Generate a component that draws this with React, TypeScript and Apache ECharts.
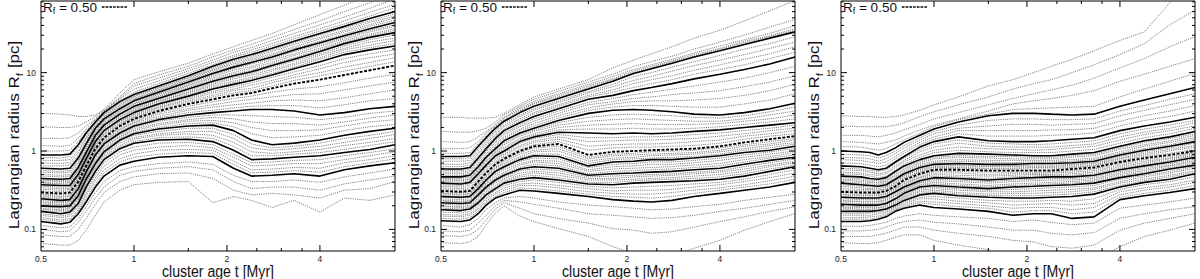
import React, { useEffect, useRef } from "react";
import * as echarts from "echarts";

const FONT = "Liberation Sans, Arial, Helvetica, sans-serif";

// cluster age t [Myr] at which every Lagrangian radius below was read
const AGES = [0.5, 0.58, 0.62, 0.66, 0.7, 0.75, 0.8, 0.9, 1.0, 1.2, 1.5, 1.8, 2.1, 2.4, 2.8, 3.3, 4.0, 4.8, 5.8, 7.0];

const THICK_FRACTIONS = [0.1, 0.2, 0.3, 0.4, 0.5, 0.6, 0.7, 0.8, 0.9];
const THIN_FRACTIONS = [0.02, 0.04, 0.06, 0.08, 0.12, 0.14, 0.16, 0.18, 0.22, 0.24, 0.26, 0.28, 0.32, 0.34, 0.36, 0.38, 0.42, 0.44, 0.46, 0.48, 0.52, 0.54, 0.56, 0.58, 0.62, 0.64, 0.66, 0.68, 0.72, 0.74, 0.76, 0.78, 0.82, 0.84, 0.86, 0.88, 0.92, 0.94, 0.96, 0.98, 0.99];

const X_TICK_MAJOR = [1, 2, 4];
const X_TICK_MINOR = [1.5, 2.5, 3, 3.5];
const Y_TICK_MAJOR = [0.1, 1, 10];
const Y_TICK_MINOR = [0.06, 0.07, 0.08, 0.09, 0.2, 0.3, 0.4, 0.5, 0.6, 0.7, 0.8, 0.9, 2, 3, 4, 5, 6, 7, 8, 9, 20, 30, 40, 50, 60, 70, 80];

// All radii below are stored as log10(R_f / pc), one row per mass fraction.
// ---------- panel 1 ----------
const P1_THICK = [
  [-0.90,-0.93,-0.91,-0.80,-0.65,-0.46,-0.32,-0.18,-0.13,-0.08,-0.06,-0.07,-0.22,-0.32,-0.31,-0.29,-0.32,-0.24,-0.19,-0.15],
  [-0.77,-0.80,-0.78,-0.67,-0.46,-0.26,-0.11,0.03,0.10,0.14,0.15,0.12,0.01,-0.11,-0.10,-0.08,-0.06,-0.02,0.02,0.08],
  [-0.70,-0.71,-0.70,-0.57,-0.36,-0.16,-0.01,0.14,0.22,0.28,0.32,0.33,0.26,0.14,0.08,0.10,0.14,0.20,0.25,0.29],
  [-0.61,-0.63,-0.62,-0.48,-0.27,-0.05,0.09,0.23,0.32,0.40,0.46,0.49,0.51,0.53,0.53,0.51,0.46,0.49,0.54,0.57],
  [-0.53,-0.54,-0.53,-0.39,-0.19,0.03,0.17,0.32,0.41,0.51,0.60,0.66,0.71,0.74,0.80,0.86,0.91,0.97,1.03,1.09],
  [-0.43,-0.44,-0.44,-0.30,-0.10,0.12,0.26,0.40,0.49,0.60,0.70,0.79,0.85,0.90,0.97,1.05,1.14,1.23,1.29,1.34],
  [-0.35,-0.36,-0.35,-0.21,-0.02,0.20,0.33,0.47,0.57,0.67,0.79,0.89,0.96,1.01,1.09,1.17,1.27,1.37,1.45,1.51],
  [-0.22,-0.23,-0.22,-0.09,0.09,0.29,0.41,0.54,0.64,0.75,0.88,0.99,1.07,1.13,1.20,1.29,1.38,1.47,1.56,1.64],
  [-0.05,-0.05,-0.04,0.08,0.23,0.37,0.49,0.63,0.72,0.83,0.96,1.08,1.17,1.23,1.31,1.40,1.50,1.59,1.69,1.78],
];
const P1_THIN = [
  [-1.18,-1.20,-1.20,-1.14,-1.01,-0.82,-0.65,-0.50,-0.43,-0.40,-0.39,-0.66,-0.58,-0.63,-0.72,-0.63,-0.78,-0.60,-0.63,-0.56],
  [-1.07,-1.09,-1.09,-1.00,-0.86,-0.68,-0.53,-0.39,-0.33,-0.29,-0.28,-0.35,-0.50,-0.56,-0.54,-0.56,-0.60,-0.50,-0.48,-0.39],
  [-1.00,-1.03,-1.02,-0.91,-0.77,-0.60,-0.46,-0.31,-0.26,-0.22,-0.20,-0.24,-0.39,-0.48,-0.46,-0.46,-0.50,-0.42,-0.37,-0.32],
  [-0.95,-0.98,-0.97,-0.86,-0.71,-0.53,-0.39,-0.25,-0.20,-0.16,-0.14,-0.17,-0.31,-0.39,-0.39,-0.37,-0.40,-0.33,-0.28,-0.23],
  [-0.87,-0.90,-0.88,-0.77,-0.61,-0.42,-0.28,-0.14,-0.08,-0.04,-0.02,-0.03,-0.17,-0.28,-0.27,-0.25,-0.27,-0.20,-0.15,-0.10],
  [-0.85,-0.88,-0.86,-0.75,-0.57,-0.38,-0.24,-0.10,-0.04,0.01,0.02,0.01,-0.13,-0.24,-0.23,-0.21,-0.22,-0.15,-0.11,-0.06],
  [-0.82,-0.85,-0.83,-0.72,-0.54,-0.34,-0.19,-0.05,0.01,0.05,0.07,0.04,-0.08,-0.19,-0.18,-0.16,-0.16,-0.11,-0.06,-0.01],
  [-0.80,-0.83,-0.81,-0.70,-0.50,-0.30,-0.15,-0.01,0.05,0.10,0.11,0.08,-0.04,-0.15,-0.14,-0.12,-0.11,-0.06,-0.02,0.03],
  [-0.76,-0.78,-0.76,-0.65,-0.44,-0.24,-0.09,0.05,0.12,0.17,0.18,0.16,0.06,-0.06,-0.06,-0.04,-0.02,0.02,0.07,0.12],
  [-0.74,-0.76,-0.75,-0.63,-0.42,-0.22,-0.07,0.07,0.15,0.20,0.22,0.20,0.11,-0.01,-0.03,-0.01,0.02,0.07,0.11,0.16],
  [-0.73,-0.75,-0.73,-0.61,-0.40,-0.20,-0.05,0.10,0.17,0.22,0.25,0.25,0.16,0.04,0.01,0.03,0.06,0.11,0.16,0.21],
  [-0.71,-0.73,-0.72,-0.59,-0.38,-0.18,-0.03,0.12,0.20,0.25,0.29,0.29,0.21,0.09,0.04,0.06,0.10,0.16,0.20,0.25],
  [-0.68,-0.69,-0.68,-0.55,-0.34,-0.14,0.01,0.16,0.24,0.30,0.35,0.36,0.31,0.22,0.17,0.18,0.20,0.26,0.31,0.34],
  [-0.66,-0.68,-0.67,-0.53,-0.32,-0.12,0.03,0.18,0.26,0.33,0.38,0.39,0.36,0.30,0.26,0.26,0.27,0.32,0.37,0.40],
  [-0.65,-0.66,-0.65,-0.52,-0.31,-0.09,0.05,0.19,0.28,0.35,0.40,0.43,0.41,0.37,0.35,0.35,0.33,0.37,0.42,0.46],
  [-0.63,-0.65,-0.64,-0.50,-0.29,-0.07,0.07,0.21,0.30,0.38,0.43,0.46,0.46,0.45,0.44,0.43,0.40,0.43,0.48,0.51],
  [-0.59,-0.61,-0.60,-0.46,-0.25,-0.03,0.11,0.25,0.34,0.42,0.49,0.52,0.55,0.57,0.58,0.58,0.55,0.59,0.64,0.67],
  [-0.58,-0.59,-0.58,-0.44,-0.24,-0.02,0.12,0.27,0.36,0.44,0.52,0.56,0.59,0.61,0.64,0.65,0.64,0.68,0.73,0.78],
  [-0.56,-0.58,-0.57,-0.43,-0.22,0.00,0.14,0.28,0.37,0.47,0.54,0.59,0.63,0.66,0.69,0.72,0.73,0.78,0.83,0.88],
  [-0.55,-0.56,-0.55,-0.41,-0.21,0.01,0.15,0.30,0.39,0.49,0.57,0.63,0.67,0.70,0.75,0.79,0.82,0.87,0.93,0.98],
  [-0.51,-0.52,-0.51,-0.37,-0.17,0.05,0.19,0.34,0.43,0.53,0.62,0.69,0.74,0.77,0.83,0.90,0.96,1.02,1.08,1.14],
  [-0.49,-0.50,-0.49,-0.35,-0.15,0.07,0.21,0.35,0.44,0.55,0.64,0.71,0.77,0.80,0.87,0.94,1.00,1.07,1.13,1.19],
  [-0.47,-0.48,-0.48,-0.34,-0.14,0.08,0.22,0.37,0.46,0.56,0.66,0.74,0.79,0.84,0.90,0.97,1.05,1.13,1.19,1.24],
  [-0.45,-0.46,-0.46,-0.32,-0.12,0.10,0.24,0.38,0.47,0.58,0.68,0.76,0.82,0.87,0.94,1.01,1.09,1.18,1.24,1.29],
  [-0.41,-0.42,-0.42,-0.28,-0.08,0.14,0.27,0.41,0.51,0.61,0.72,0.81,0.87,0.92,0.99,1.07,1.17,1.26,1.32,1.37],
  [-0.40,-0.41,-0.40,-0.26,-0.07,0.15,0.29,0.43,0.52,0.63,0.74,0.83,0.89,0.94,1.02,1.10,1.19,1.29,1.35,1.41],
  [-0.38,-0.39,-0.39,-0.25,-0.05,0.17,0.30,0.44,0.54,0.64,0.75,0.85,0.92,0.97,1.04,1.12,1.22,1.31,1.39,1.44],
  [-0.37,-0.38,-0.37,-0.23,-0.04,0.18,0.32,0.46,0.55,0.66,0.77,0.87,0.94,0.99,1.07,1.15,1.24,1.34,1.42,1.48],
  [-0.32,-0.33,-0.32,-0.19,0.00,0.22,0.35,0.48,0.58,0.69,0.81,0.91,0.98,1.03,1.11,1.19,1.29,1.39,1.47,1.54],
  [-0.30,-0.31,-0.30,-0.16,0.02,0.24,0.36,0.50,0.60,0.70,0.83,0.93,1.00,1.06,1.13,1.22,1.31,1.41,1.49,1.56],
  [-0.27,-0.28,-0.27,-0.14,0.05,0.25,0.38,0.51,0.61,0.72,0.84,0.95,1.03,1.08,1.16,1.24,1.34,1.43,1.52,1.59],
  [-0.25,-0.26,-0.25,-0.11,0.07,0.27,0.39,0.53,0.63,0.73,0.86,0.97,1.05,1.11,1.18,1.27,1.36,1.45,1.54,1.61],
  [-0.19,-0.19,-0.18,-0.06,0.12,0.31,0.43,0.56,0.66,0.77,0.90,1.01,1.09,1.15,1.22,1.31,1.40,1.49,1.59,1.67],
  [-0.15,-0.16,-0.15,-0.02,0.15,0.32,0.44,0.58,0.67,0.78,0.91,1.03,1.11,1.17,1.24,1.33,1.43,1.52,1.61,1.70],
  [-0.12,-0.12,-0.11,0.01,0.17,0.34,0.46,0.59,0.69,0.80,0.93,1.04,1.13,1.19,1.27,1.36,1.45,1.54,1.64,1.72],
  [-0.08,-0.09,-0.07,0.05,0.20,0.35,0.47,0.61,0.70,0.81,0.94,1.06,1.15,1.21,1.29,1.38,1.48,1.57,1.66,1.75],
  [0.00,0.00,0.01,0.12,0.25,0.38,0.49,0.64,0.75,0.86,0.99,1.10,1.20,1.26,1.34,1.43,1.53,1.62,1.72,1.83],
  [0.07,0.06,0.07,0.16,0.28,0.40,0.50,0.66,0.79,0.89,1.02,1.13,1.22,1.29,1.37,1.46,1.56,1.66,1.77,1.87],
  [0.16,0.16,0.17,0.23,0.32,0.41,0.51,0.67,0.83,0.93,1.05,1.16,1.26,1.32,1.41,1.50,1.61,1.71,1.82,1.94],
  [0.31,0.30,0.30,0.32,0.37,0.44,0.52,0.69,0.86,0.97,1.08,1.20,1.29,1.36,1.45,1.55,1.66,1.78,1.89,2.01],
  [0.48,0.47,0.46,0.44,0.44,0.46,0.53,0.74,0.91,1.01,1.12,1.24,1.33,1.41,1.50,1.61,1.74,1.86,1.99,2.12],
];

// ---------- panel 2 ----------
const P2_THICK = [
  [-0.89,-0.90,-0.88,-0.80,-0.69,-0.60,-0.56,-0.50,-0.51,-0.54,-0.58,-0.62,-0.64,-0.65,-0.63,-0.58,-0.54,-0.50,-0.46,-0.40],
  [-0.75,-0.76,-0.74,-0.66,-0.56,-0.48,-0.41,-0.36,-0.34,-0.37,-0.42,-0.43,-0.41,-0.40,-0.39,-0.38,-0.36,-0.32,-0.26,-0.20],
  [-0.66,-0.67,-0.66,-0.56,-0.46,-0.37,-0.31,-0.23,-0.20,-0.22,-0.31,-0.29,-0.28,-0.27,-0.26,-0.24,-0.22,-0.17,-0.12,-0.08],
  [-0.58,-0.59,-0.58,-0.48,-0.37,-0.26,-0.20,-0.11,-0.06,-0.07,-0.19,-0.14,-0.13,-0.11,-0.11,-0.09,-0.06,-0.02,0.01,0.06],
  [-0.51,-0.52,-0.51,-0.39,-0.28,-0.17,-0.10,0.00,0.06,0.09,-0.05,-0.01,0.00,0.01,0.02,0.03,0.06,0.11,0.15,0.19],
  [-0.41,-0.42,-0.40,-0.29,-0.18,-0.06,0.00,0.12,0.18,0.24,0.23,0.22,0.23,0.22,0.23,0.25,0.27,0.30,0.33,0.36],
  [-0.33,-0.33,-0.31,-0.20,-0.08,0.03,0.13,0.23,0.29,0.39,0.48,0.52,0.53,0.52,0.50,0.47,0.46,0.49,0.54,0.61],
  [-0.23,-0.23,-0.21,-0.09,0.03,0.16,0.26,0.36,0.44,0.54,0.66,0.71,0.77,0.81,0.86,0.92,0.98,1.04,1.11,1.20],
  [-0.07,-0.07,-0.06,0.06,0.17,0.29,0.38,0.49,0.57,0.67,0.79,0.89,0.99,1.05,1.12,1.20,1.28,1.36,1.44,1.52],
];
const P2_THIN = [
  [-1.17,-1.18,-1.16,-1.09,-0.94,-0.79,-0.70,-0.83,-0.90,-0.99,-1.09,-1.22,-1.31,-1.35,-1.33,-1.24,-1.14,-1.01,-0.90,-0.80],
  [-1.08,-1.09,-1.07,-1.00,-0.88,-0.74,-0.66,-0.73,-0.80,-0.86,-0.92,-0.99,-1.01,-1.05,-1.03,-0.97,-0.90,-0.84,-0.77,-0.71],
  [-1.02,-1.03,-1.01,-0.92,-0.82,-0.70,-0.63,-0.65,-0.68,-0.73,-0.80,-0.82,-0.84,-0.86,-0.85,-0.82,-0.77,-0.73,-0.68,-0.63],
  [-0.95,-0.97,-0.94,-0.86,-0.75,-0.66,-0.60,-0.58,-0.60,-0.65,-0.69,-0.71,-0.73,-0.75,-0.74,-0.71,-0.68,-0.63,-0.59,-0.55],
  [-0.86,-0.87,-0.85,-0.77,-0.66,-0.58,-0.53,-0.47,-0.48,-0.51,-0.55,-0.58,-0.59,-0.60,-0.58,-0.54,-0.50,-0.46,-0.42,-0.36],
  [-0.83,-0.84,-0.82,-0.74,-0.64,-0.55,-0.50,-0.44,-0.44,-0.47,-0.52,-0.54,-0.55,-0.55,-0.53,-0.50,-0.47,-0.43,-0.38,-0.32],
  [-0.81,-0.82,-0.80,-0.72,-0.61,-0.53,-0.47,-0.42,-0.41,-0.44,-0.48,-0.51,-0.50,-0.50,-0.49,-0.46,-0.43,-0.39,-0.34,-0.28],
  [-0.78,-0.79,-0.77,-0.69,-0.59,-0.50,-0.44,-0.39,-0.37,-0.40,-0.45,-0.47,-0.46,-0.45,-0.44,-0.42,-0.40,-0.36,-0.30,-0.24],
  [-0.73,-0.74,-0.72,-0.64,-0.54,-0.46,-0.39,-0.33,-0.31,-0.34,-0.40,-0.40,-0.38,-0.37,-0.36,-0.35,-0.33,-0.29,-0.23,-0.18],
  [-0.71,-0.72,-0.71,-0.62,-0.52,-0.44,-0.37,-0.31,-0.28,-0.31,-0.37,-0.37,-0.36,-0.35,-0.34,-0.32,-0.30,-0.26,-0.20,-0.15],
  [-0.70,-0.71,-0.69,-0.60,-0.50,-0.41,-0.35,-0.28,-0.26,-0.28,-0.35,-0.35,-0.33,-0.32,-0.31,-0.29,-0.27,-0.23,-0.18,-0.13],
  [-0.68,-0.69,-0.67,-0.58,-0.48,-0.39,-0.33,-0.25,-0.23,-0.25,-0.33,-0.32,-0.31,-0.30,-0.29,-0.27,-0.25,-0.20,-0.15,-0.10],
  [-0.64,-0.65,-0.64,-0.54,-0.44,-0.35,-0.29,-0.21,-0.17,-0.19,-0.29,-0.26,-0.25,-0.24,-0.23,-0.21,-0.19,-0.14,-0.09,-0.05],
  [-0.63,-0.64,-0.63,-0.53,-0.42,-0.33,-0.27,-0.18,-0.14,-0.16,-0.26,-0.23,-0.22,-0.21,-0.20,-0.18,-0.16,-0.11,-0.07,-0.02],
  [-0.61,-0.62,-0.61,-0.51,-0.41,-0.30,-0.24,-0.16,-0.12,-0.13,-0.24,-0.20,-0.19,-0.17,-0.17,-0.15,-0.12,-0.08,-0.04,0.00],
  [-0.59,-0.60,-0.59,-0.50,-0.39,-0.28,-0.22,-0.13,-0.09,-0.10,-0.21,-0.17,-0.16,-0.14,-0.14,-0.12,-0.09,-0.05,-0.01,0.03],
  [-0.57,-0.58,-0.57,-0.46,-0.35,-0.24,-0.18,-0.09,-0.04,-0.04,-0.16,-0.11,-0.10,-0.09,-0.08,-0.07,-0.04,0.01,0.04,0.09],
  [-0.55,-0.56,-0.55,-0.44,-0.33,-0.22,-0.16,-0.07,-0.01,0.00,-0.13,-0.09,-0.08,-0.06,-0.05,-0.04,-0.01,0.03,0.07,0.11],
  [-0.54,-0.55,-0.54,-0.43,-0.32,-0.21,-0.14,-0.04,0.01,0.03,-0.10,-0.06,-0.05,-0.04,-0.03,-0.02,0.01,0.06,0.09,0.14],
  [-0.52,-0.53,-0.52,-0.41,-0.30,-0.19,-0.12,-0.02,0.04,0.06,-0.08,-0.04,-0.03,-0.01,0.00,0.01,0.04,0.08,0.12,0.16],
  [-0.49,-0.50,-0.49,-0.37,-0.26,-0.15,-0.08,0.02,0.08,0.12,0.01,0.04,0.05,0.05,0.06,0.07,0.10,0.15,0.19,0.22],
  [-0.47,-0.48,-0.47,-0.35,-0.24,-0.13,-0.06,0.05,0.11,0.15,0.06,0.08,0.09,0.09,0.10,0.12,0.14,0.19,0.22,0.26],
  [-0.45,-0.46,-0.44,-0.33,-0.22,-0.10,-0.04,0.07,0.13,0.18,0.12,0.13,0.14,0.14,0.15,0.16,0.19,0.22,0.26,0.29],
  [-0.43,-0.44,-0.42,-0.31,-0.20,-0.08,-0.02,0.10,0.16,0.21,0.17,0.17,0.18,0.18,0.19,0.21,0.23,0.26,0.29,0.33],
  [-0.39,-0.40,-0.38,-0.27,-0.16,-0.04,0.03,0.14,0.20,0.27,0.28,0.28,0.29,0.28,0.28,0.29,0.31,0.34,0.37,0.41],
  [-0.38,-0.38,-0.36,-0.25,-0.14,-0.02,0.05,0.16,0.22,0.30,0.33,0.34,0.35,0.34,0.34,0.34,0.35,0.38,0.41,0.46],
  [-0.36,-0.37,-0.35,-0.24,-0.12,-0.01,0.08,0.19,0.25,0.33,0.38,0.40,0.41,0.40,0.39,0.38,0.38,0.41,0.46,0.51],
  [-0.35,-0.35,-0.33,-0.22,-0.10,0.01,0.10,0.21,0.27,0.36,0.43,0.46,0.47,0.46,0.45,0.43,0.42,0.45,0.50,0.56],
  [-0.31,-0.31,-0.29,-0.18,-0.06,0.06,0.16,0.26,0.32,0.42,0.52,0.56,0.58,0.58,0.57,0.56,0.56,0.60,0.65,0.73],
  [-0.29,-0.29,-0.27,-0.16,-0.04,0.08,0.18,0.28,0.35,0.45,0.55,0.60,0.63,0.64,0.64,0.65,0.67,0.71,0.77,0.85],
  [-0.27,-0.27,-0.25,-0.13,-0.01,0.11,0.21,0.31,0.38,0.48,0.59,0.63,0.67,0.69,0.72,0.74,0.77,0.82,0.88,0.96],
  [-0.25,-0.25,-0.23,-0.11,0.01,0.13,0.23,0.33,0.41,0.51,0.62,0.67,0.72,0.75,0.79,0.83,0.88,0.93,1.00,1.08],
  [-0.20,-0.20,-0.18,-0.06,0.06,0.19,0.28,0.39,0.47,0.57,0.69,0.75,0.81,0.86,0.91,0.98,1.04,1.10,1.18,1.26],
  [-0.17,-0.17,-0.15,-0.03,0.09,0.21,0.31,0.41,0.49,0.59,0.71,0.78,0.86,0.91,0.96,1.03,1.10,1.17,1.24,1.33],
  [-0.13,-0.13,-0.12,0.00,0.11,0.24,0.33,0.44,0.52,0.62,0.74,0.82,0.90,0.95,1.02,1.09,1.16,1.23,1.31,1.39],
  [-0.10,-0.10,-0.09,0.03,0.14,0.26,0.36,0.46,0.54,0.64,0.76,0.85,0.95,1.00,1.07,1.14,1.22,1.30,1.37,1.46],
  [-0.03,-0.03,-0.02,0.09,0.20,0.31,0.40,0.51,0.60,0.69,0.81,0.91,1.00,1.06,1.14,1.21,1.30,1.38,1.46,1.54],
  [0.03,0.03,0.04,0.12,0.23,0.32,0.42,0.53,0.61,0.71,0.83,0.92,1.02,1.08,1.15,1.23,1.31,1.40,1.47,1.56],
  [0.12,0.11,0.12,0.18,0.25,0.34,0.43,0.55,0.63,0.73,0.85,0.95,1.04,1.10,1.17,1.25,1.34,1.42,1.50,1.60],
  [0.25,0.24,0.24,0.26,0.29,0.37,0.46,0.57,0.66,0.76,0.88,0.98,1.08,1.14,1.21,1.30,1.39,1.48,1.58,1.68],
  [0.43,0.43,0.42,0.42,0.42,0.43,0.48,0.59,0.69,0.79,0.91,1.06,1.16,1.24,1.33,1.44,1.54,1.66,1.79,1.92],
];

// ---------- panel 3 ----------
const P3_THICK = [
  [-0.90,-0.90,-0.89,-0.87,-0.84,-0.77,-0.73,-0.69,-0.72,-0.74,-0.77,-0.82,-0.80,-0.80,-0.86,-0.84,-0.62,-0.57,-0.53,-0.48],
  [-0.77,-0.77,-0.77,-0.76,-0.74,-0.69,-0.63,-0.56,-0.54,-0.57,-0.59,-0.60,-0.60,-0.59,-0.58,-0.55,-0.46,-0.40,-0.36,-0.29],
  [-0.68,-0.69,-0.69,-0.69,-0.67,-0.61,-0.54,-0.46,-0.44,-0.46,-0.48,-0.46,-0.45,-0.44,-0.43,-0.41,-0.34,-0.29,-0.23,-0.18],
  [-0.59,-0.60,-0.60,-0.60,-0.58,-0.52,-0.46,-0.38,-0.34,-0.35,-0.37,-0.35,-0.34,-0.33,-0.33,-0.31,-0.24,-0.19,-0.14,-0.08],
  [-0.52,-0.53,-0.53,-0.53,-0.51,-0.45,-0.37,-0.29,-0.24,-0.24,-0.25,-0.25,-0.25,-0.25,-0.23,-0.21,-0.14,-0.09,-0.05,0.00],
  [-0.41,-0.43,-0.44,-0.45,-0.43,-0.36,-0.29,-0.21,-0.17,-0.16,-0.17,-0.17,-0.16,-0.16,-0.15,-0.13,-0.05,0.01,0.06,0.12],
  [-0.32,-0.33,-0.35,-0.36,-0.34,-0.26,-0.19,-0.11,-0.06,-0.03,-0.04,-0.05,-0.06,-0.06,-0.04,-0.02,0.06,0.13,0.18,0.25],
  [-0.19,-0.20,-0.22,-0.24,-0.22,-0.14,-0.07,0.05,0.12,0.18,0.13,0.12,0.12,0.13,0.15,0.17,0.26,0.32,0.37,0.43],
  [0.00,-0.01,-0.02,-0.05,-0.02,0.04,0.11,0.20,0.28,0.37,0.45,0.48,0.48,0.47,0.46,0.47,0.57,0.65,0.73,0.81],
];
const P3_THIN = [
  [-1.17,-1.18,-1.18,-1.17,-1.14,-1.10,-1.07,-1.07,-1.14,-1.20,-1.26,-1.35,-1.39,-1.48,-1.43,-1.39,-1.22,-1.09,-1.01,-0.92],
  [-1.09,-1.09,-1.09,-1.07,-1.05,-1.01,-0.97,-0.97,-1.01,-1.05,-1.09,-1.14,-1.16,-1.22,-1.24,-1.20,-1.01,-0.92,-0.86,-0.80],
  [-1.02,-1.02,-1.01,-1.00,-0.97,-0.93,-0.90,-0.88,-0.91,-0.93,-0.97,-1.01,-1.01,-1.05,-1.07,-1.04,-0.86,-0.80,-0.75,-0.71],
  [-0.96,-0.96,-0.95,-0.93,-0.91,-0.86,-0.83,-0.80,-0.82,-0.84,-0.86,-0.90,-0.88,-0.91,-0.94,-0.92,-0.73,-0.69,-0.65,-0.60],
  [-0.87,-0.87,-0.87,-0.85,-0.82,-0.75,-0.71,-0.66,-0.68,-0.71,-0.73,-0.78,-0.76,-0.76,-0.80,-0.78,-0.59,-0.54,-0.50,-0.44],
  [-0.85,-0.85,-0.84,-0.83,-0.80,-0.74,-0.69,-0.64,-0.65,-0.67,-0.70,-0.73,-0.72,-0.72,-0.75,-0.72,-0.56,-0.50,-0.46,-0.40],
  [-0.82,-0.82,-0.82,-0.80,-0.78,-0.72,-0.67,-0.61,-0.61,-0.64,-0.66,-0.69,-0.68,-0.67,-0.69,-0.67,-0.52,-0.47,-0.43,-0.37],
  [-0.80,-0.80,-0.79,-0.78,-0.76,-0.71,-0.65,-0.59,-0.58,-0.60,-0.63,-0.64,-0.64,-0.63,-0.64,-0.61,-0.49,-0.43,-0.39,-0.33],
  [-0.75,-0.75,-0.75,-0.75,-0.73,-0.67,-0.61,-0.54,-0.52,-0.55,-0.57,-0.57,-0.57,-0.56,-0.55,-0.52,-0.44,-0.38,-0.33,-0.27],
  [-0.73,-0.74,-0.74,-0.73,-0.71,-0.66,-0.59,-0.52,-0.50,-0.53,-0.55,-0.54,-0.54,-0.53,-0.52,-0.49,-0.41,-0.36,-0.31,-0.25],
  [-0.72,-0.72,-0.72,-0.72,-0.70,-0.64,-0.58,-0.50,-0.48,-0.50,-0.52,-0.52,-0.51,-0.50,-0.49,-0.47,-0.39,-0.33,-0.28,-0.22],
  [-0.70,-0.71,-0.71,-0.70,-0.68,-0.63,-0.56,-0.48,-0.46,-0.48,-0.50,-0.49,-0.48,-0.47,-0.46,-0.44,-0.36,-0.31,-0.26,-0.20],
  [-0.66,-0.67,-0.67,-0.67,-0.65,-0.59,-0.52,-0.44,-0.42,-0.44,-0.46,-0.44,-0.43,-0.42,-0.41,-0.39,-0.32,-0.27,-0.21,-0.16],
  [-0.64,-0.65,-0.65,-0.65,-0.63,-0.57,-0.51,-0.43,-0.40,-0.42,-0.44,-0.42,-0.41,-0.40,-0.39,-0.37,-0.30,-0.25,-0.19,-0.14],
  [-0.63,-0.64,-0.64,-0.64,-0.62,-0.56,-0.49,-0.41,-0.38,-0.39,-0.41,-0.39,-0.38,-0.37,-0.37,-0.35,-0.28,-0.23,-0.18,-0.12],
  [-0.61,-0.62,-0.62,-0.62,-0.60,-0.54,-0.48,-0.40,-0.36,-0.37,-0.39,-0.37,-0.36,-0.35,-0.35,-0.33,-0.26,-0.21,-0.16,-0.10],
  [-0.58,-0.59,-0.59,-0.59,-0.57,-0.51,-0.44,-0.36,-0.32,-0.33,-0.35,-0.33,-0.32,-0.31,-0.31,-0.29,-0.22,-0.17,-0.12,-0.06],
  [-0.56,-0.57,-0.57,-0.57,-0.55,-0.49,-0.42,-0.34,-0.30,-0.31,-0.32,-0.31,-0.30,-0.30,-0.29,-0.27,-0.20,-0.15,-0.10,-0.05],
  [-0.55,-0.56,-0.56,-0.56,-0.54,-0.48,-0.41,-0.33,-0.28,-0.28,-0.30,-0.29,-0.29,-0.28,-0.27,-0.25,-0.18,-0.13,-0.09,-0.03],
  [-0.53,-0.54,-0.54,-0.54,-0.52,-0.46,-0.39,-0.31,-0.26,-0.26,-0.27,-0.27,-0.27,-0.27,-0.25,-0.23,-0.16,-0.11,-0.07,-0.02],
  [-0.50,-0.51,-0.51,-0.51,-0.49,-0.43,-0.35,-0.27,-0.23,-0.22,-0.23,-0.23,-0.23,-0.23,-0.21,-0.19,-0.12,-0.07,-0.03,0.02],
  [-0.48,-0.49,-0.49,-0.50,-0.48,-0.41,-0.34,-0.26,-0.21,-0.21,-0.22,-0.22,-0.21,-0.21,-0.20,-0.18,-0.10,-0.05,0.00,0.05],
  [-0.45,-0.47,-0.48,-0.48,-0.46,-0.40,-0.32,-0.24,-0.20,-0.19,-0.20,-0.20,-0.20,-0.20,-0.18,-0.16,-0.09,-0.03,0.02,0.07],
  [-0.43,-0.45,-0.46,-0.46,-0.45,-0.38,-0.31,-0.23,-0.18,-0.18,-0.19,-0.19,-0.18,-0.18,-0.17,-0.15,-0.07,-0.01,0.04,0.10],
  [-0.39,-0.41,-0.42,-0.43,-0.41,-0.34,-0.27,-0.19,-0.15,-0.13,-0.14,-0.15,-0.14,-0.14,-0.13,-0.11,-0.03,0.03,0.08,0.15],
  [-0.37,-0.39,-0.40,-0.41,-0.39,-0.32,-0.25,-0.17,-0.13,-0.11,-0.12,-0.12,-0.12,-0.12,-0.11,-0.09,-0.01,0.06,0.11,0.17],
  [-0.36,-0.37,-0.39,-0.40,-0.38,-0.30,-0.23,-0.15,-0.10,-0.08,-0.09,-0.10,-0.10,-0.10,-0.08,-0.06,0.02,0.08,0.13,0.20],
  [-0.34,-0.35,-0.37,-0.38,-0.36,-0.28,-0.21,-0.13,-0.08,-0.06,-0.07,-0.07,-0.08,-0.08,-0.06,-0.04,0.04,0.11,0.16,0.22],
  [-0.29,-0.30,-0.32,-0.34,-0.32,-0.24,-0.17,-0.08,-0.02,0.01,-0.01,-0.02,-0.02,-0.02,0.00,0.02,0.10,0.17,0.22,0.29],
  [-0.27,-0.28,-0.30,-0.31,-0.29,-0.21,-0.14,-0.05,0.01,0.05,0.03,0.02,0.01,0.02,0.04,0.06,0.14,0.21,0.26,0.32],
  [-0.24,-0.25,-0.27,-0.29,-0.27,-0.19,-0.12,-0.01,0.05,0.10,0.06,0.05,0.05,0.05,0.07,0.09,0.18,0.24,0.29,0.36],
  [-0.22,-0.23,-0.25,-0.26,-0.24,-0.16,-0.09,0.02,0.09,0.14,0.10,0.09,0.08,0.09,0.11,0.13,0.22,0.28,0.33,0.39],
  [-0.15,-0.16,-0.18,-0.20,-0.18,-0.10,-0.03,0.08,0.15,0.22,0.19,0.19,0.19,0.20,0.21,0.23,0.32,0.39,0.44,0.51],
  [-0.11,-0.12,-0.14,-0.16,-0.14,-0.07,0.00,0.11,0.18,0.26,0.26,0.26,0.26,0.27,0.27,0.29,0.38,0.45,0.51,0.58],
  [-0.08,-0.09,-0.10,-0.13,-0.10,-0.03,0.04,0.14,0.22,0.29,0.32,0.34,0.34,0.33,0.34,0.35,0.45,0.52,0.59,0.66],
  [-0.04,-0.05,-0.06,-0.09,-0.06,0.00,0.07,0.17,0.25,0.33,0.39,0.41,0.41,0.40,0.40,0.41,0.51,0.58,0.66,0.73],
  [0.06,0.05,0.03,0.01,0.03,0.09,0.14,0.23,0.31,0.40,0.47,0.53,0.54,0.55,0.56,0.57,0.69,0.79,0.89,0.99],
  [0.12,0.11,0.10,0.09,0.11,0.14,0.19,0.27,0.33,0.41,0.51,0.60,0.64,0.67,0.71,0.77,0.89,0.98,1.08,1.18],
  [0.20,0.20,0.19,0.18,0.20,0.23,0.27,0.34,0.41,0.49,0.59,0.67,0.73,0.78,0.84,0.93,1.06,1.18,1.33,1.46],
  [0.32,0.31,0.31,0.31,0.31,0.33,0.36,0.44,0.50,0.59,0.69,0.79,0.86,0.91,1.00,1.10,1.23,1.37,1.61,1.80],
  [0.45,0.44,0.44,0.43,0.43,0.44,0.46,0.52,0.59,0.69,0.83,0.91,1.00,1.08,1.17,1.28,1.41,1.52,1.89,2.18],
];

const PANELS = [
  { thick: P1_THICK, thin: P1_THIN },
  { thick: P2_THICK, thin: P2_THIN },
  { thick: P3_THICK, thin: P3_THIN },
];

const GRID_LEFT = [41, 441, 841];
const GRID_TOP = 1;
const GRID_W = 354;
const GRID_H = 250;

const DASH_ICON =
  "path://M0 0h2.5v1.6h-2.5zM3.6 0h2.5v1.6h-2.5zM7.2 0h2.5v1.6h-2.5zM10.8 0h2.5v1.6h-2.5zM14.4 0h2.5v1.6h-2.5zM18 0h2.5v1.6h-2.5zM21.6 0h2.5v1.6h-2.5z";

function toData(logs: number[]) {
  return AGES.map((t, i) => [t, Math.pow(10, logs[i])]);
}

function tickSeries(p: number) {
  const data = [
    ...Y_TICK_MAJOR.map((v) => [1, v, 0]),
    ...Y_TICK_MINOR.map((v) => [1, v, 1]),
    ...X_TICK_MAJOR.map((v) => [v, 1, 2]),
    ...X_TICK_MINOR.map((v) => [v, 1, 3]),
  ];
  return {
    type: "custom",
    xAxisIndex: p,
    yAxisIndex: p,
    silent: true,
    z: 5,
    encode: { x: 0, y: 1 },
    data,
    renderItem: (params: any, api: any) => {
      const cs = params.coordSys;
      const kind = api.value(2);
      const pt = api.coord([api.value(0), api.value(1)]);
      const len = kind === 0 || kind === 2 ? 6 : 3;
      const style = { stroke: "#000", lineWidth: 1 };
      if (kind < 2) {
        const y = pt[1];
        return {
          type: "group",
          children: [
            { type: "line", shape: { x1: cs.x, y1: y, x2: cs.x + len, y2: y }, style },
            { type: "line", shape: { x1: cs.x + cs.width - len, y1: y, x2: cs.x + cs.width, y2: y }, style },
          ],
        };
      }
      const x = pt[0];
      return {
        type: "group",
        children: [
          { type: "line", shape: { x1: x, y1: cs.y + cs.height, x2: x, y2: cs.y + cs.height - len }, style },
          { type: "line", shape: { x1: x, y1: cs.y, x2: x, y2: cs.y + len }, style },
        ],
      };
    },
  };
}

function buildOption() {
  const grid = GRID_LEFT.map((l) => ({
    left: l,
    top: GRID_TOP,
    width: GRID_W,
    height: GRID_H,
    show: true,
    borderColor: "#000",
    borderWidth: 1,
    backgroundColor: "transparent",
  }));
  const labelBase = { fontSize: 8.5, color: "#222", fontFamily: FONT };
  const xAxis = GRID_LEFT.map((_, p) => ({
    type: "log",
    logBase: 2,
    min: 0.5,
    max: 7,
    gridIndex: p,
    axisLine: { show: false },
    axisTick: { show: false },
    splitLine: { show: false },
    axisLabel: { ...labelBase, margin: 3, showMinLabel: true, showMaxLabel: false },
  }));
  const yAxis = GRID_LEFT.map((_, p) => ({
    type: "log",
    logBase: 10,
    min: 0.053,
    max: 82,
    gridIndex: p,
    axisLine: { show: false },
    axisTick: { show: false },
    splitLine: { show: false },
    axisLabel: { ...labelBase, margin: 5, showMinLabel: false, showMaxLabel: false },
  }));

  const series: any[] = [];
  PANELS.forEach((pd, p) => {
    pd.thin.forEach((arr, k) => {
      series.push({
        type: "line",
        name: "thin" + THIN_FRACTIONS[k] + "_" + p,
        xAxisIndex: p,
        yAxisIndex: p,
        data: toData(arr),
        symbol: "none",
        silent: true,
        z: 2,
        lineStyle: { color: "#6a6a6a", width: 0.9, type: [1.1, 1.1] },
      });
    });
    pd.thick.forEach((arr, k) => {
      const f = THICK_FRACTIONS[k];
      const half = f === 0.5;
      series.push({
        type: "line",
        name: half ? "Rf050" : "thick" + f + "_" + p,
        xAxisIndex: p,
        yAxisIndex: p,
        data: toData(arr),
        symbol: "none",
        silent: true,
        z: half ? 4 : 3,
        itemStyle: { color: "#000" },
        lineStyle: { color: "#000", width: half ? 1.9 : 1.6, type: half ? [3, 1.5] : "solid" },
      });
    });
    series.push(tickSeries(p));
  });

  const legend = GRID_LEFT.map((l) => ({
    show: true,
    left: l + 2,
    top: 0,
    padding: 0,
    itemWidth: 25,
    itemHeight: 2,
    align: "right",
    selectedMode: false,
    data: [{ name: "Rf050", icon: DASH_ICON, itemStyle: { color: "#000" } }],
    formatter: () => "{r|R}{s|f}{r| = 0.50}",
    textStyle: {
      rich: {
        r: { fontSize: 13.5, fontFamily: FONT, color: "#111", lineHeight: 16 },
        s: { fontSize: 9, fontFamily: FONT, color: "#111", lineHeight: 16, verticalAlign: "bottom" },
      },
    },
  }));

  const graphic: any[] = [];
  GRID_LEFT.forEach((l) => {
    graphic.push({
      type: "text",
      x: l + GRID_W / 2,
      y: 271,
      scaleX: 0.83,
      silent: true,
      style: { text: "cluster age t [Myr]", fontSize: 17, fontFamily: FONT, fill: "#111", align: "center", verticalAlign: "middle" },
    });
    graphic.push({
      type: "text",
      x: l - 27,
      y: 135,
      rotation: Math.PI / 2,
      scaleY: 0.83,
      silent: true,
      style: {
        text: "Lagrangian radius R{s|f} [pc]",
        fontSize: 17,
        fontFamily: FONT,
        fill: "#111",
        align: "center",
        verticalAlign: "middle",
        rich: {
          s: { fontSize: 12, fontFamily: FONT, fill: "#111", verticalAlign: "bottom", lineHeight: 24 },
        },
      },
    });
  });

  return {
    animation: false,
    backgroundColor: "#fff",
    grid,
    xAxis,
    yAxis,
    legend,
    series,
    graphic,
  };
}

export default function App() {
  const ref = useRef<HTMLDivElement>(null);
  useEffect(() => {
    document.body.style.margin = "0";
    const chart = echarts.init(ref.current as HTMLDivElement, null, { renderer: "svg" });
    chart.setOption(buildOption() as any);
    return () => chart.dispose();
  }, []);
  return <div ref={ref} style={{ width: 1200, height: 279 }} />;
}
